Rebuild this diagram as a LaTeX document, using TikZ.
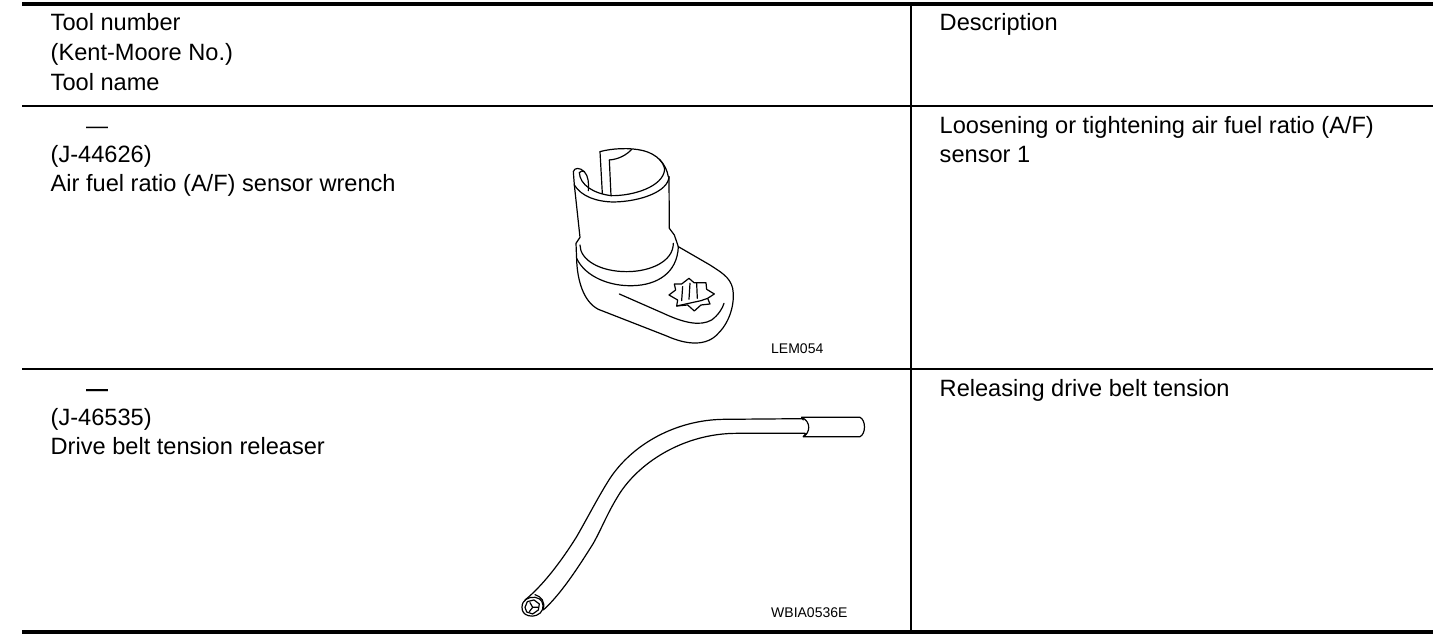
\documentclass[tikz,border=0pt]{standalone}
\usepackage{fontspec}
\setmainfont{Liberation Sans}
\tikzset{
 txt/.style={anchor=base west,inner sep=0pt,font=\fontsize{23.6}{26}\selectfont,text=black},
 dashmark/.style={anchor=base west,inner sep=0pt,font=\fontsize{22}{26}\selectfont,text=black},
 small/.style={anchor=base west,inner sep=0pt,font=\fontsize{14}{15}\selectfont,text=black},
 thickrule/.style={line width=4.6pt,black},
 rule/.style={line width=2pt,black},
 ink/.style={line width=1.2pt,black,line join=round,line cap=round},
 zoomA/.style={shift={(540,130)},x=0.3333pt,y=-0.3333pt},
 zoomB/.style={shift={(510,400)},x=0.3333pt,y=-0.3333pt}
}
\begin{document}
\begin{tikzpicture}[x=1pt,y=-1pt]
\useasboundingbox (0,0) rectangle (1456,642);
\fill[white] (0,0) rectangle (1456,642);
% table rules
\draw[thickrule] (22,4) -- (1433,4);
\draw[rule] (22,105.5) -- (1433,105.5);
\draw[rule] (22,368.5) -- (1433,368.5);
\draw[thickrule] (22,632) -- (1433,632);
\draw[rule] (911,4) -- (911,630);
% header
\node[txt] (h1) at (50.5,31) {Tool number};
\node[txt] (h2) at (50.5,60.5) {(Kent-Moore No.)};
\node[txt] (h3) at (50.5,90) {Tool name};
\node[txt] (hd) at (939.5,31) {Description};
% row 1
\node[dashmark] (d1) at (86,133) {—};
\node[txt] (n1) at (50.5,162) {(J-44626)};
\node[txt] (t1) at (50.5,191) {Air fuel ratio (A/F) sensor wrench};
\node[txt] (u1) at (939.5,133) {Loosening or tightening air fuel ratio (A/F)};
\node[txt] (u2) at (939.5,162) {sensor 1};
\node[small] (c1) at (771,353) {LEM054};
% row 2
\node[dashmark,font=\fontsize{22}{26}\selectfont\bfseries] (d2) at (86,396) {—};
\node[txt] (n2) at (50.5,425) {(J-46535)};
\node[txt] (t2) at (50.5,454.5) {Drive belt tension releaser};
\node[txt] (u3) at (939.5,396) {Releasing drive belt tension};
\node[small] (c2) at (771,617) {WBIA0536E};
% wrench
\begin{scope}[zoomA,ink]
 % rim, back and right side
 \draw (180,65) .. controls (215,55) and (270,52) .. (310,62) .. controls (350,72) and (378,100) .. (385,140);
 \draw (208,90) .. controls (235,88) and (260,75) .. (275,58);
 \draw (180,65) -- (187,190);
 \draw (208,90) -- (213,197);
 % inner and outer front rim
 \draw (118,128) .. controls (120,165) and (160,190) .. (213,197) .. controls (280,198) and (370,170) .. (374,118) .. controls (372,105) and (365,95) .. (358,88);
 \draw (103,165) .. controls (125,200) and (170,215) .. (220,216) .. controls (300,215) and (385,185) .. (387,140);
 % split end of the rim
 \draw (103,165) -- (100,125) .. controls (103,112) and (120,112) .. (133,125) .. controls (145,138) and (147,160) .. (145,182);
 \draw (118,128) .. controls (122,122) and (128,122) .. (133,125);
 % body
 \draw (103,165) -- (120,322) -- (108,340) -- (110,390);
 \draw (387,140) -- (388,295) -- (403,315) -- (415,350);
 % collar
 \draw (120,345) .. controls (120,390) and (180,425) .. (260,425) .. controls (330,425) and (400,395) .. (400,340);
 \draw (110,385) .. controls (135,440) and (210,470) .. (280,467) .. controls (350,465) and (412,430) .. (415,350);
 % base
 \draw (110,390) .. controls (112,450) and (130,515) .. (175,538) -- (380,618) .. controls (440,645) and (500,650) .. (535,610) .. controls (575,570) and (585,510) .. (578,475) .. controls (570,440) and (540,425) .. (510,405) -- (415,350);
 \draw (238,492) -- (370,550) .. controls (430,578) and (480,590) .. (515,570) .. controls (535,555) and (548,535) .. (552,520);
 % star hole
 \draw (403,462) -- (425,462) -- (447,445) -- (462,458) -- (498,458) -- (500,478) -- (523,492) -- (503,505) -- (510,522) -- (483,525) -- (463,543) -- (443,525) -- (410,528) -- (413,510) -- (387,495) -- (407,480) -- cycle;
 \draw (410,528) -- (483,512) -- (503,505);
 \draw (428,470) -- (425,512);
 \draw (450,460) -- (447,508);
 \draw (470,460) -- (472,505);
\end{scope}
% tension releaser
\begin{scope}[zoomB,ink]
 \draw (45,600) .. controls (95,560) and (150,490) .. (200,410) .. controls (240,340) and (265,290) .. (300,235) .. controls (370,130) and (500,60) .. (640,58) -- (880,56);
 \draw (100,630) .. controls (150,585) and (200,510) .. (250,430) .. controls (275,385) and (290,345) .. (320,295) .. controls (380,190) and (520,100) .. (680,100) -- (885,100);
 \draw (875,52) -- (1050,52) .. controls (1068,60) and (1068,102) .. (1050,110) -- (880,110) .. controls (900,100) and (905,65) .. (875,52);
 \draw (875,52) -- (880,60);
 \draw (880,110) -- (888,100);
 % open end
 \draw (36,622) .. controls (36,600) and (55,590) .. (75,592) .. controls (95,595) and (102,610) .. (98,628) .. controls (92,645) and (70,652) .. (55,647) .. controls (42,643) and (36,635) .. (36,622) -- cycle;
 \draw (45,622) -- (52,605) -- (72,600) -- (88,612) -- (85,630) -- (68,642) -- (50,636) -- cycle;
 \draw (68,622) -- (60,608) (68,622) -- (84,622) (68,622) -- (58,635);
 \draw (75,584) .. controls (95,590) and (105,605) .. (100,628);
\end{scope}
\end{tikzpicture}
\end{document}
